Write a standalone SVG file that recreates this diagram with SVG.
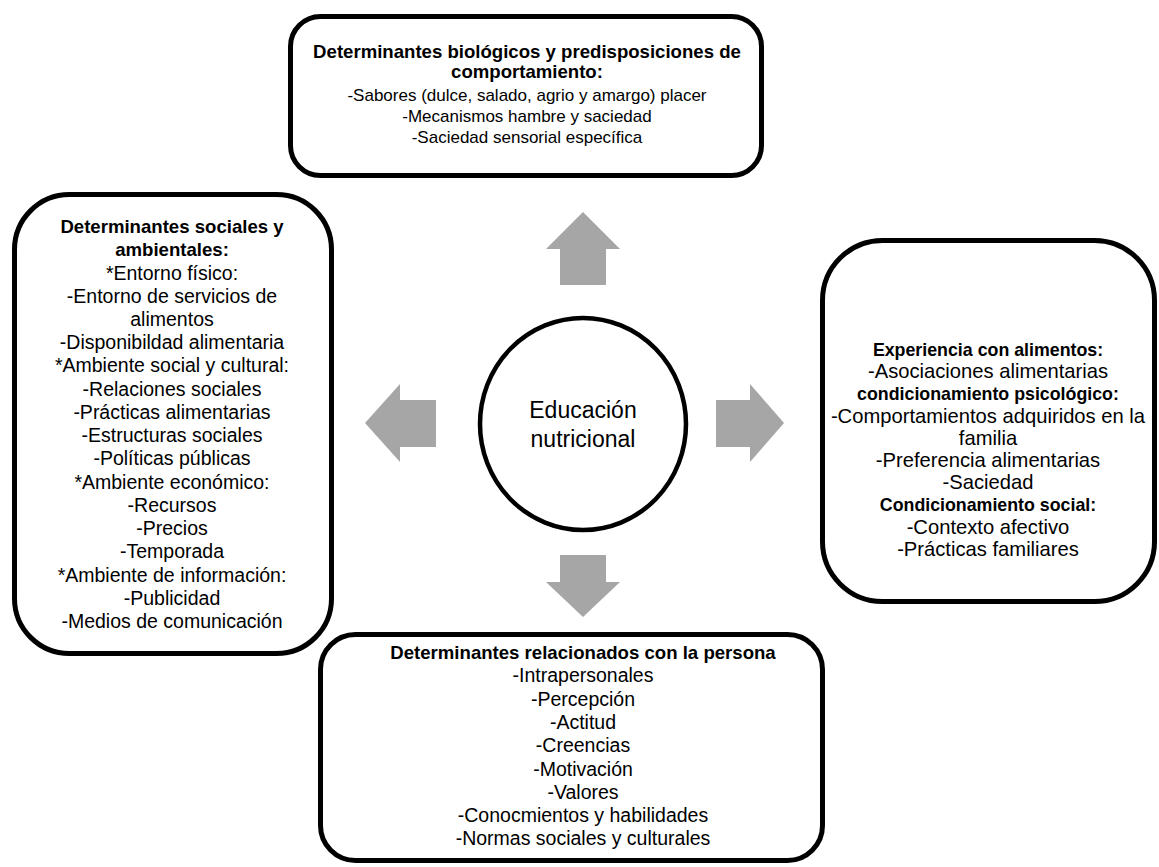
<svg xmlns="http://www.w3.org/2000/svg" width="1159" height="867" viewBox="0 0 1159 867">
<style>
.box{fill:#fff;stroke:#000;stroke-width:5}
.circ{fill:#fff;stroke:#000;stroke-width:4.5}
.arr{fill:#a6a6a6;stroke:none}
text{font-family:"Liberation Sans",Arial,sans-serif;font-size:19.5px;fill:#000;text-anchor:middle}
.b{font-weight:bold;font-size:18.6px}
.s{font-size:17px}
.r{font-size:20.2px}
.rb{font-weight:bold;font-size:17.8px}
.c{font-size:23px}
</style>
<rect width="1159" height="867" fill="#fff"/>
<g id="connectors">
<polygon class="arr" points="583,212 620,249 606,249 606,285 560,285 560,249 546,249"/>
<polygon class="arr" points="365,423 400,384 400,400 436,400 436,447 400,447 400,462"/>
<polygon class="arr" points="784,423 750,384 750,400 716,400 716,447 750,447 750,462"/>
<polygon class="arr" points="583,617 620,582 606,582 606,555 560,555 560,582 546,582"/>
</g>
<g id="top">
<rect class="box" x="290.5" y="16.5" width="471" height="159" rx="30"/>
<text x="527" y="58" class="b">Determinantes biológicos y predisposiciones de</text>
<text x="527" y="78" class="b">comportamiento:</text>
<text x="527" y="101" class="s">-Sabores (dulce, salado, agrio y amargo) placer</text>
<text x="527" y="122" class="s">-Mecanismos hambre y saciedad</text>
<text x="527" y="143" class="s">-Saciedad sensorial específica</text>
</g>
<g id="left">
<rect class="box" x="14.5" y="194.5" width="317" height="459" rx="55"/>
<text x="172" y="233" class="b">Determinantes sociales y</text>
<text x="172" y="256.2" class="b">ambientales:</text>
<text x="172" y="279.5">*Entorno físico:</text>
<text x="172" y="302.7">-Entorno de servicios de</text>
<text x="172" y="326">alimentos</text>
<text x="172" y="349.2">-Disponibildad alimentaria</text>
<text x="172" y="372.4">*Ambiente social y cultural:</text>
<text x="172" y="395.7">-Relaciones sociales</text>
<text x="172" y="418.9">-Prácticas alimentarias</text>
<text x="172" y="442.2">-Estructuras sociales</text>
<text x="172" y="465.4">-Políticas públicas</text>
<text x="172" y="488.6">*Ambiente económico:</text>
<text x="172" y="511.9">-Recursos</text>
<text x="172" y="535.1">-Precios</text>
<text x="172" y="558.4">-Temporada</text>
<text x="172" y="581.6">*Ambiente de información:</text>
<text x="172" y="604.8">-Publicidad</text>
<text x="172" y="628">-Medios de comunicación</text>
</g>
<g id="right">
<rect class="box" x="822.5" y="240.5" width="332" height="361" rx="60"/>
<text x="988" y="356" class="rb">Experiencia con alimentos:</text>
<text x="988" y="378.2" class="r">-Asociaciones alimentarias</text>
<text x="988" y="400.4" class="rb">condicionamiento psicológico:</text>
<text x="988" y="422.6" class="r">-Comportamientos adquiridos en la</text>
<text x="988" y="444.8" class="r">familia</text>
<text x="988" y="467" class="r">-Preferencia alimentarias</text>
<text x="988" y="489.2" class="r">-Saciedad</text>
<text x="988" y="511.4" class="rb">Condicionamiento social:</text>
<text x="988" y="533.6" class="r">-Contexto afectivo</text>
<text x="988" y="555.8" class="r">-Prácticas familiares</text>
</g>
<g id="bottom">
<rect class="box" x="320.5" y="634.5" width="502" height="226" rx="35"/>
<text x="583" y="659" class="b">Determinantes relacionados con la persona</text>
<text x="583" y="682.3">-Intrapersonales</text>
<text x="583" y="705.6">-Percepción</text>
<text x="583" y="728.9">-Actitud</text>
<text x="583" y="752.2">-Creencias</text>
<text x="583" y="775.5">-Motivación</text>
<text x="583" y="798.8">-Valores</text>
<text x="583" y="822.1">-Conocmientos y habilidades</text>
<text x="583" y="845.4">-Normas sociales y culturales</text>
</g>
<g id="center">
<ellipse class="circ" cx="583" cy="424" rx="103" ry="106"/>
<text x="583" y="418" class="c">Educación</text>
<text x="583" y="447" class="c">nutricional</text>
</g>
</svg>
